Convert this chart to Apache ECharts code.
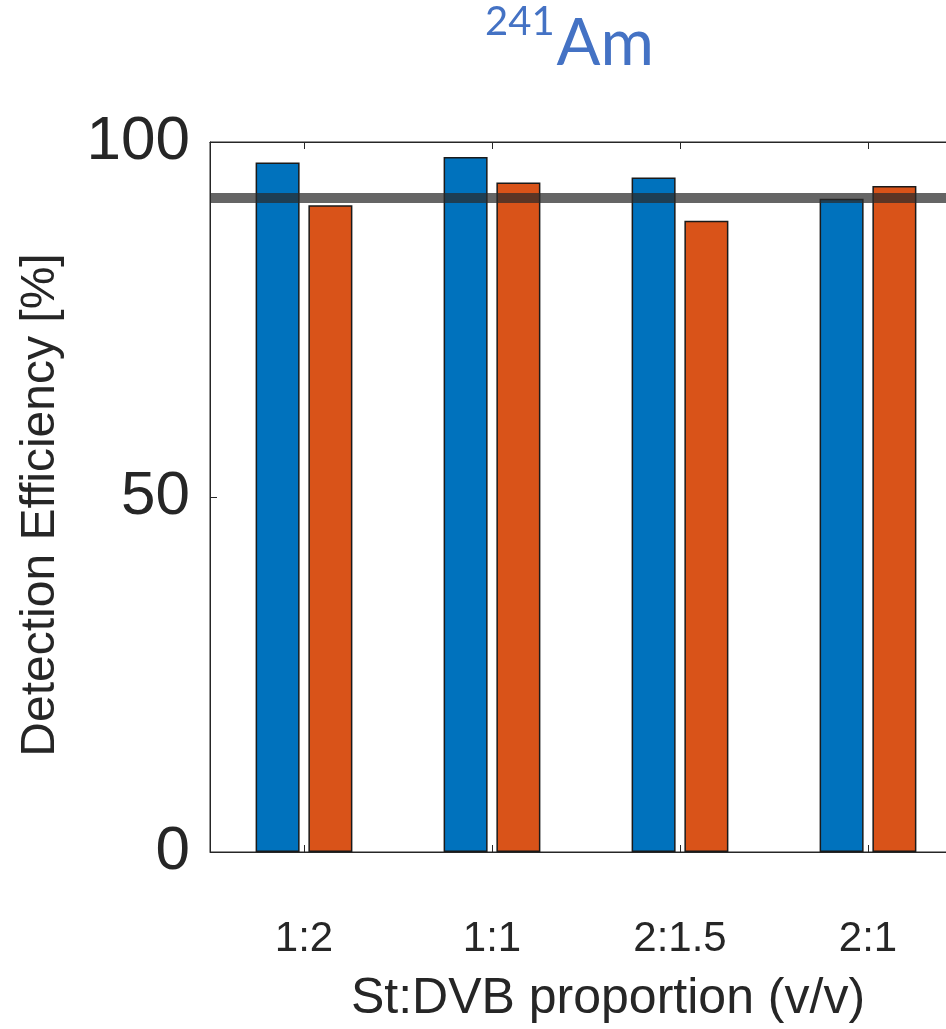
<!DOCTYPE html>
<html>
<head>
<meta charset="utf-8">
<script src="https://cdn.jsdelivr.net/npm/echarts@6/dist/echarts.min.js"></script>
<style>
html,body{margin:0;padding:0;background:#fff;overflow:hidden;width:946px;height:1029px;}
#chart{width:1100px;height:1029px;}
</style>
</head>
<body>
<div id="chart"></div>
<script>
const categories = ['1:2', '1:1', '2:1.5', '2:1'];
const blueValues = [97.1, 97.9, 95.0, 92.0];
const orangeValues = [91.1, 94.3, 88.9, 93.8];
const referenceLine = [92.1];
const yTicks = [0, 50, 100];

const chart = echarts.init(document.getElementById('chart'));
const textColor = '#262626';
const font = '"Liberation Sans", Arial, Helvetica, sans-serif';
const titleFont = 'Lato, "Open Sans", sans-serif';

chart.setOption({
  animation: false,
  backgroundColor: '#ffffff',
  title: {
    text: '{sup|241}{big|Am}',
    left: 480,
    top: -3,
    textStyle: {
      rich: {
        sup: { fontSize: 40, fontWeight: 'normal', color: '#4472C4', fontFamily: titleFont, verticalAlign: 'top', lineHeight: 70, padding: [0, 2, 0, 0] },
        big: { fontSize: 65, fontWeight: 'normal', color: '#4472C4', fontFamily: titleFont, lineHeight: 84 }
      }
    }
  },
  grid: {
    left: 210, top: 142, height: 714, width: 752,
    show: true, borderColor: textColor, borderWidth: 1, backgroundColor: 'transparent'
  },
  xAxis: [{
    type: 'category',
    data: categories,
    position: 'bottom',
    axisLine: { show: true, lineStyle: { color: textColor, width: 1 } },
    axisTick: { show: true, inside: true, alignWithLabel: true, length: 7, lineStyle: { color: textColor } },
    axisLabel: { color: textColor, fontSize: 42, fontFamily: font, margin: 66 },
    name: 'St:DVB proportion (v/v)',
    nameLocation: 'middle',
    nameGap: 122,
    nameTextStyle: { color: textColor, fontSize: 50, fontFamily: font, padding: [0, 0, 0, 44] },
    splitLine: { show: false }
  }, {
    type: 'category',
    data: categories,
    position: 'top',
    axisLine: { show: true, lineStyle: { color: textColor, width: 1 } },
    axisTick: { show: true, inside: true, alignWithLabel: true, length: 7, lineStyle: { color: textColor } },
    axisLabel: { show: false },
    splitLine: { show: false }
  }],
  yAxis: {
    type: 'value',
    min: yTicks[0], max: yTicks[yTicks.length - 1], interval: yTicks[1] - yTicks[0],
    axisLine: { show: true, lineStyle: { color: textColor, width: 1 } },
    axisTick: { show: true, inside: true, length: 7, lineStyle: { color: textColor } },
    axisLabel: { color: textColor, fontSize: 62, fontFamily: font, margin: 20 },
    splitLine: { show: false },
    name: 'Detection Efficiency [%]',
    nameLocation: 'middle',
    nameGap: 145,
    nameTextStyle: { color: textColor, fontSize: 48, fontFamily: font, padding: [0, 16, 0, 0] }
  },
  series: [{
    type: 'bar',
    data: blueValues,
    barWidth: 44,
    barGap: '20%',
    itemStyle: { color: '#0072BD', borderColor: '#1a1a1a', borderWidth: 1.5 }
  }, {
    type: 'bar',
    data: orangeValues,
    barWidth: 44,
    barGap: '20%',
    itemStyle: { color: '#D95319', borderColor: '#1a1a1a', borderWidth: 1.5 },
    markLine: {
      silent: true,
      symbol: ['none', 'none'],
      label: { show: false },
      lineStyle: { color: 'rgba(42,42,42,0.72)', width: 10, type: 'solid' },
      data: referenceLine.map(v => ({ yAxis: v }))
    }
  }],
  graphic: [{
    type: 'rect',
    shape: { x: 120, y: 872, width: 85, height: 30 },
    style: { fill: '#ffffff' },
    z: 100
  }]
});
</script>
</body>
</html>
